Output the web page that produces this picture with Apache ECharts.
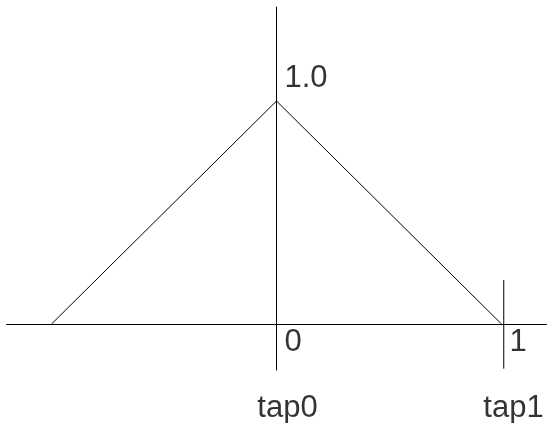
<!DOCTYPE html>
<html>
<head>
<meta charset="utf-8">
<script src="https://cdn.jsdelivr.net/npm/echarts@6/dist/echarts.min.js"></script>
<style>
  html, body { margin: 0; padding: 0; background: #fff; }
  #chart { width: 547px; height: 423px; }
</style>
</head>
<body>
<div id="chart"></div>
<script>
// triangle (linear interpolation kernel)
var kernelX = [-1, 0, 1];
var kernelY = [0, 1, 0];

// second tap marker
var tapMarkX = [1.01, 1.01];
var tapMarkY = [-0.2, 0.197];

// labels
var valueLabels = [
  { x: 0, y: 1, text: "1.0" },
  { x: 0, y: 0, text: "0" },
  { x: 1, y: 0, text: "1" }
];
var tapLabels = [
  { x: 0, y: 0, text: "tap0" },
  { x: 1, y: 0, text: "tap1" }
];

var chart = echarts.init(document.getElementById("chart"));

var font = "Liberation Sans, Arial, sans-serif";

var option = {
  backgroundColor: "#fff",
  animation: false,
  grid: { left: 6.5, width: 540, top: 7, bottom: 53 },
  xAxis: {
    type: "value",
    min: -1.2,
    max: 1.2,
    axisLine: { onZero: true, lineStyle: { color: "#000", width: 1 } },
    axisTick: { show: false },
    axisLabel: { show: false },
    splitLine: { show: false }
  },
  yAxis: {
    type: "value",
    min: -0.206,
    max: 1.4215,
    axisLine: { show: true, onZero: true, lineStyle: { color: "#000", width: 1 } },
    axisTick: { show: false },
    axisLabel: { show: false },
    splitLine: { show: false }
  },
  series: [
    {
      type: "line",
      data: kernelX.map(function (x, i) { return [x, kernelY[i]]; }),
      showSymbol: false,
      lineStyle: { color: "#000", width: 1 }
    },
    {
      type: "line",
      data: tapMarkX.map(function (x, i) { return [x, tapMarkY[i]]; }),
      showSymbol: false,
      lineStyle: { color: "#000", width: 1 }
    },
    {
      type: "scatter",
      symbolSize: 0,
      data: valueLabels.map(function (d) {
        return {
          value: [d.x, d.y],
          name: d.text,
          label: { position: d.y === 1 ? [8, -22.5] : [8, 18.5] }
        };
      }),
      label: {
        show: true,
        formatter: "{b}",
        align: "left",
        verticalAlign: "middle",
        color: "#000",
        fontSize: 31,
        fontFamily: font
      }
    },
    {
      type: "scatter",
      symbolSize: 0,
      data: tapLabels.map(function (d) {
        return {
          value: [d.x, d.y],
          name: d.text,
          label: { position: d.x === 0 ? [11, 84] : [12, 84] }
        };
      }),
      label: {
        show: true,
        formatter: "{b}",
        align: "center",
        verticalAlign: "middle",
        color: "#000",
        fontSize: 31,
        fontFamily: font
      }
    }
  ]
};

chart.setOption(option);
</script>
</body>
</html>
